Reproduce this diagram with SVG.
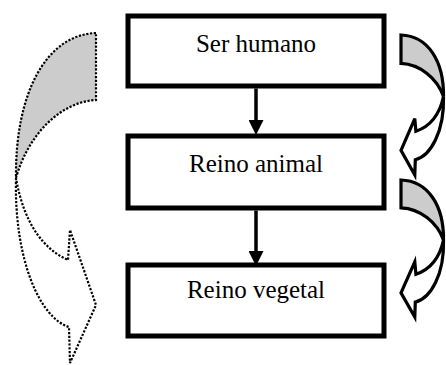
<svg xmlns="http://www.w3.org/2000/svg" width="446" height="365" viewBox="0 0 446 365">
  <style>
    .box { fill: #ffffff; stroke: #000000; stroke-width: 5; }
    .label { font-family: "Liberation Serif", "Times New Roman", serif; font-size: 25px; fill: #000000; text-anchor: middle; }
    .conn { stroke: #000000; stroke-width: 3.5; fill: none; }
    .dotted { stroke: #000000; stroke-width: 2.2; stroke-dasharray: 2.2 1.6; stroke-linejoin: miter; }
    .solid { stroke: #000000; stroke-width: 3.2; stroke-linejoin: miter; }
    .back { fill: #cccccc; }
    .front { fill: #ffffff; }
  </style>
  <defs>
    <marker id="head" markerUnits="userSpaceOnUse" markerWidth="15" markerHeight="15" viewBox="0 0 14 14" refX="0" refY="7" orient="auto">
      <path d="M0,0 L14,7 L0,14 Z" fill="#000000"/>
    </marker>
  </defs>
  <rect width="446" height="365" fill="#ffffff"/>

  <g id="curve-left">
    <path class="back dotted" d="M96,33 C45,35 15,95 16,178 C28,135 60,102 96,100 Z"/>
    <path class="front dotted" d="M16,178 C14,260 40,318 69,327 L70,363 L96,305 L70,230 L68,260 C45,250 24,225 16,178 Z"/>
  </g>

  <g id="curve-right-1">
    <path class="back solid" d="M401,35 C428.1,35.8 444,61.3 443.5,96.5 C437.1,78.3 420.1,64.3 401,63.4 Z"/>
    <path class="front solid" d="M443.5,96.5 C444.5,131.3 430.7,156 415.3,159.7 L414.8,175 L401,150.4 L414.8,118.6 L415.9,131.3 C428.1,127.1 439.2,116.5 443.5,96.5 Z"/>
  </g>

  <g id="curve-right-2">
    <path class="back solid" d="M401,180 C428.1,180.8 444,205.8 443.5,240.1 C437.1,222.3 420.1,208.6 401,207.8 Z"/>
    <path class="front solid" d="M443.5,240.1 C444.5,274.3 430.7,298.4 415.3,302.1 L414.8,317 L401,292.9 L414.8,261.8 L415.9,274.3 C428.1,270.1 439.2,259.7 443.5,240.1 Z"/>
  </g>

  <g id="node-ser-humano">
    <rect class="box" x="128" y="16" width="256" height="70"/>
    <text class="label" x="256" y="52">Ser humano</text>
  </g>
  <g id="node-reino-animal">
    <rect class="box" x="128" y="136" width="256" height="72"/>
    <text class="label" x="256" y="172">Reino animal</text>
  </g>
  <g id="node-reino-vegetal">
    <rect class="box" x="128" y="265" width="256" height="71"/>
    <text class="label" x="256" y="298">Reino vegetal</text>
  </g>

  <g id="connectors">
    <line class="conn" x1="256" y1="88.5" x2="256" y2="120" marker-end="url(#head)"/>
    <line class="conn" x1="256" y1="210.5" x2="256" y2="251" marker-end="url(#head)"/>
  </g>
</svg>
